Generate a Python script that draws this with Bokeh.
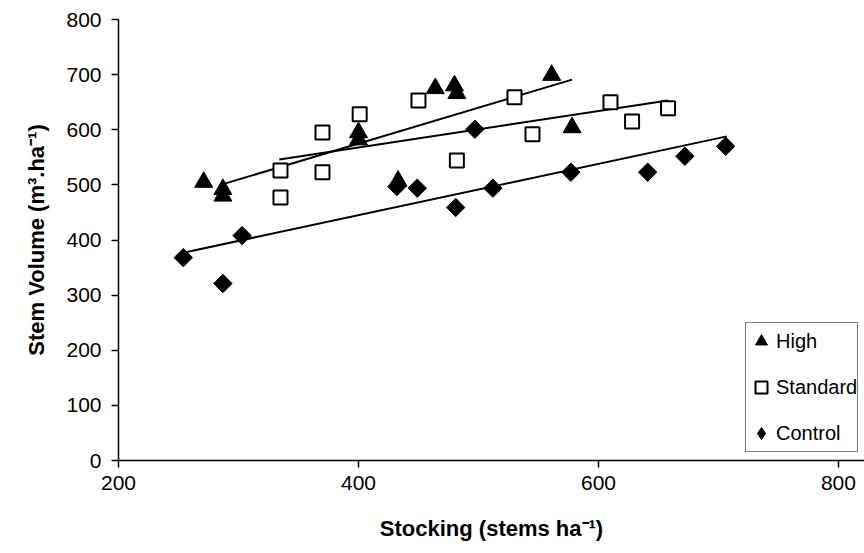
from bokeh.plotting import figure
from bokeh.models import FixedTicker, Legend, LegendItem, Range1d
from bokeh.embed import file_html
from bokeh.resources import INLINE

# ---- data ----
x_ticks = [200, 400, 600, 800]
y_ticks = [0, 100, 200, 300, 400, 500, 600, 700, 800]

high_x = [271, 287, 287, 400, 400, 433, 464, 480, 482, 561, 578]
high_y = [505, 492, 480, 595, 582, 507, 675, 680, 666, 699, 604]

std_x = [335, 335, 370, 370, 401, 450, 482, 530, 545, 610, 628, 658]
std_y = [526, 477, 595, 523, 628, 653, 544, 659, 592, 650, 615, 639]

ctl_x = [254, 287, 303, 432, 449, 481, 497, 512, 577, 641, 672, 706]
ctl_y = [368, 321, 408, 497, 494, 459, 601, 494, 523, 523, 552, 570]

high_fit_x = [285, 578]
high_fit_y = [500, 691]
std_fit_x = [334, 658]
std_fit_y = [546, 653]
ctl_fit_x = [254, 707]
ctl_fit_y = [377, 588]

FONT = "Liberation Sans"

p = figure(width=864, height=553, output_backend="svg", toolbar_location=None,
           x_range=Range1d(200, 821.7), y_range=Range1d(0, 800),
           min_border_left=118, min_border_right=0, min_border_top=19,
           min_border_bottom=93)
p.outline_line_color = None
p.xgrid.grid_line_color = None
p.ygrid.grid_line_color = None
p.background_fill_color = "white"

for ax in (p.xaxis[0], p.yaxis[0]):
    ax.axis_line_color = "black"
    ax.axis_line_width = 1.5
    ax.major_tick_line_color = "black"
    ax.major_tick_line_width = 1.5
    ax.major_tick_out = 7
    ax.major_tick_in = 0
    ax.minor_tick_line_color = None
    ax.major_label_text_font = FONT
    ax.major_label_text_font_size = "21px"
    ax.major_label_text_color = "black"
    ax.axis_label_text_font = FONT
    ax.axis_label_text_font_size = "22px"
    ax.axis_label_text_font_style = "bold"
    ax.axis_label_text_color = "black"

p.xaxis.ticker = FixedTicker(ticks=x_ticks)
p.yaxis.ticker = FixedTicker(ticks=y_ticks)
p.xaxis.major_label_standoff = 8
p.yaxis.major_label_standoff = 10
p.xaxis.axis_label = "Stocking (stems ha\u207b\u00b9)"
p.yaxis.axis_label = "Stem Volume (m\u00b3.ha\u207b\u00b9)"
p.xaxis.axis_label_standoff = 23
p.yaxis.axis_label_standoff = 14

# trend lines
p.line(high_fit_x, high_fit_y, line_color="black", line_width=2)
p.line(std_fit_x, std_fit_y, line_color="black", line_width=2)
p.line(ctl_fit_x, ctl_fit_y, line_color="black", line_width=2)

r_high = p.scatter(high_x, high_y, marker="triangle", size=18,
                   fill_color="black", line_color="black")
r_std = p.scatter(std_x, std_y, marker="square", size=14,
                  fill_color="white", line_color="black", line_width=2)
# diamond key (drawn underneath, hidden by the rotated squares) used for the legend
r_ctl_key = p.scatter(ctl_x, ctl_y, marker="diamond", size=13,
                      fill_color="black", line_color="black")
r_ctl = p.scatter(ctl_x, ctl_y, marker="square", angle=0.785398, size=13,
                  fill_color="black", line_color="black")

legend = Legend(items=[LegendItem(label="High", renderers=[r_high]),
                       LegendItem(label="Standard", renderers=[r_std]),
                       LegendItem(label="Control", renderers=[r_ctl_key])],
                location=(627, 8))
legend.label_text_font = FONT
legend.label_text_font_size = "20px"
legend.label_text_color = "black"
legend.border_line_color = "black"
legend.border_line_width = 1.5
legend.background_fill_color = "white"
legend.background_fill_alpha = 1
legend.padding = 0
legend.spacing = 10
legend.label_height = 36
legend.glyph_height = 36
legend.glyph_width = 30
legend.label_standoff = -4
legend.margin = 0
p.add_layout(legend, "center")

open("out.html", "w").write(file_html(p, INLINE))
